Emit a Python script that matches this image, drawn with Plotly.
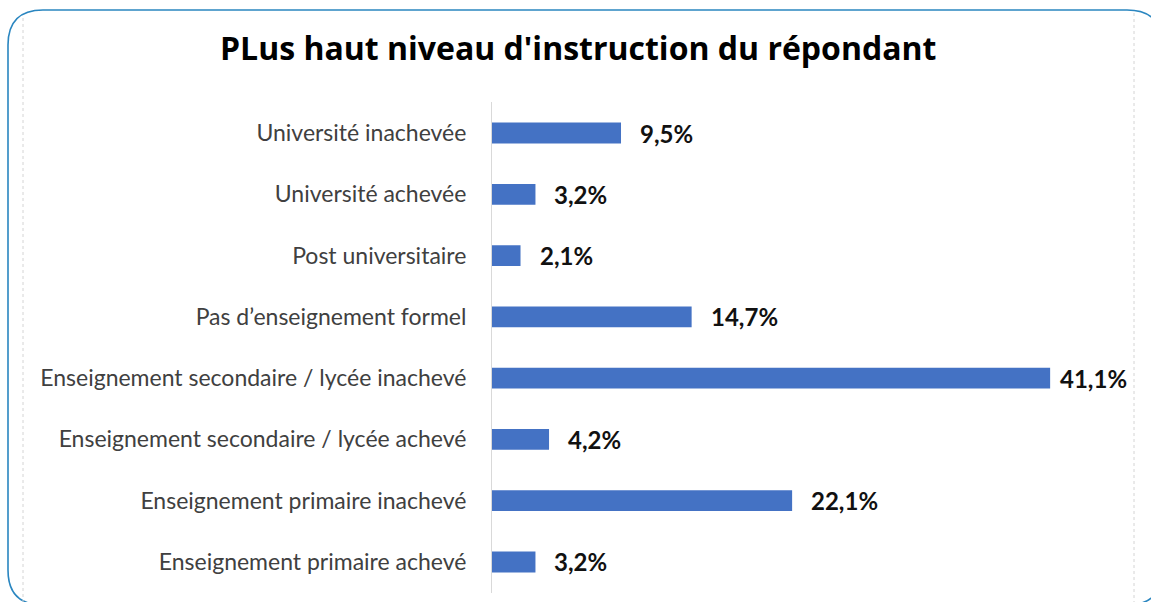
import plotly.graph_objects as go

W, H = 1151, 602

# Survey: highest level of education of the respondent (share in %)
categories = [
    "Université inachevée",
    "Université achevée",
    "Post universitaire",
    "Pas d’enseignement formel",
    "Enseignement secondaire / lycée inachevé",
    "Enseignement secondaire / lycée achevé",
    "Enseignement primaire inachevé",
    "Enseignement primaire achevé",
]
values = [9.5, 3.2, 2.1, 14.7, 41.1, 4.2, 22.1, 3.2]

title_text = "PLus haut niveau d'instruction du répondant"
bar_color = "#4472C4"

# pixel geometry of the plotting area
PLOT_L, PLOT_R = 492, 1134
PX_PER_UNIT = 13.58
LABEL_SIZE = 24
LABEL_GAP = 17
LABEL_LIMIT = 1128


def px_x(p):
    return p / W


def px_y(p):
    return 1 - p / H


def fmt(v):
    return f"{v:.1f}".replace(".", ",") + "%"


fig = go.Figure()
fig.add_trace(go.Bar(
    x=values,
    y=categories,
    orientation="h",
    marker=dict(color=bar_color, line=dict(width=0)),
    width=0.34,
    hoverinfo="x+y",
))

annotations = []
for c, v in zip(categories, values):
    txt = fmt(v)
    est_w = len(txt) * LABEL_SIZE * 0.58
    end_px = PLOT_L + v * PX_PER_UNIT
    # keep the value label inside the plotting area, as a spreadsheet would
    shift = min(LABEL_GAP, LABEL_LIMIT - est_w - end_px)
    annotations.append(dict(
        x=v, y=c, xref="x", yref="y", text=f"<b>{txt}</b>",
        showarrow=False, xanchor="left", xshift=shift,
        font=dict(family="Lato", size=LABEL_SIZE, color="#111111"),
    ))
annotations.append(dict(
    x=px_x(578), y=px_y(47), xref="paper", yref="paper",
    text=f"<b>{title_text}</b>", showarrow=False,
    xanchor="center", yanchor="middle",
    font=dict(family="Open Sans", size=32, color="#000000"),
))

# Rounded outer frame (partly running off the page) and faint dotted edges
r = 35
x0, y0, x1, y1 = 8, 10, 1162, 605
frame_path = (
    f"M {px_x(x0 + r)},{px_y(y0)} L {px_x(x1 - r)},{px_y(y0)} "
    f"Q {px_x(x1)},{px_y(y0)} {px_x(x1)},{px_y(y0 + r)} "
    f"L {px_x(x1)},{px_y(y1 - r)} Q {px_x(x1)},{px_y(y1)} {px_x(x1 - r)},{px_y(y1)} "
    f"L {px_x(x0 + r)},{px_y(y1)} Q {px_x(x0)},{px_y(y1)} {px_x(x0)},{px_y(y1 - r)} "
    f"L {px_x(x0)},{px_y(y0 + r)} Q {px_x(x0)},{px_y(y0)} {px_x(x0 + r)},{px_y(y0)} Z"
)
shapes = [
    dict(type="path", path=frame_path, xref="paper", yref="paper",
         line=dict(color="#2A86C0", width=1.6), layer="above"),
    dict(type="line", x0=px_x(23), x1=px_x(23), y0=px_y(18), y1=px_y(602),
         xref="paper", yref="paper", line=dict(color="#d4d4d4", width=1, dash="dot")),
    dict(type="line", x0=px_x(1134), x1=px_x(1134), y0=px_y(13), y1=px_y(602),
         xref="paper", yref="paper", line=dict(color="#d4d4d4", width=1, dash="dot")),
]

fig.update_layout(
    width=W, height=H,
    margin=dict(l=0, r=0, t=0, b=0),
    paper_bgcolor="white", plot_bgcolor="white",
    showlegend=False,
    annotations=annotations,
    shapes=shapes,
    xaxis=dict(
        domain=[px_x(PLOT_L), px_x(PLOT_R)],
        range=[0, (PLOT_R - PLOT_L) / PX_PER_UNIT],
        visible=False, fixedrange=True,
    ),
    yaxis=dict(
        domain=[px_y(592.6), px_y(102.4)],
        autorange="reversed",
        showline=True, linecolor="#d9d9d9", linewidth=1,
        showgrid=False, zeroline=False,
        ticks="outside", ticklen=0, ticklabelstandoff=20,
        tickfont=dict(family="Lato", size=23, color="#404040"),
        fixedrange=True,
    ),
)

fig.write_html("out.html")
